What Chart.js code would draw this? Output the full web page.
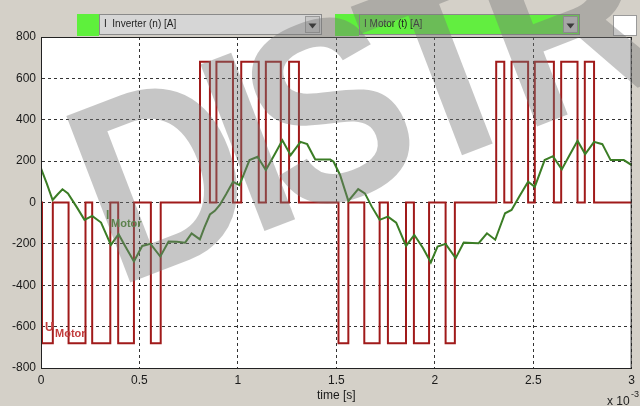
<!DOCTYPE html>
<html><head><meta charset="utf-8">
<script src="https://cdn.jsdelivr.net/npm/chart.js@4/dist/chart.umd.min.js"></script>
<style>html,body{margin:0;padding:0;background:#d4d0c8;overflow:hidden}#wrap{width:640px;height:406px;position:relative}</style>
</head><body><div id="wrap"><canvas id="c" width="640" height="406"></canvas></div>
<script>
// time in ms (axis shown as x10^-3 s)
const iMotorTime = [0.0,0.03,0.059,0.085,0.109,0.137,0.18,0.221,0.26,0.305,0.355,0.394,0.43,0.472,0.514,0.556,0.606,0.648,0.69,0.732,0.765,0.807,0.83,0.858,0.883,0.908,0.94,0.975,1.008,1.059,1.1,1.142,1.185,1.226,1.268,1.318,1.352,1.393,1.469,1.486,1.519,1.561,1.611,1.645,1.68,1.72,1.762,1.804,1.854,1.896,1.94,1.98,2.014,2.055,2.106,2.147,2.19,2.223,2.265,2.307,2.357,2.39,2.43,2.474,2.508,2.558,2.6,2.645,2.685,2.725,2.764,2.809,2.851,2.893,2.96,3.0];
const iMotorValue = [165,90,12,40,64,44,-20,-84,-65,-97,-205,-153,-215,-285,-210,-200,-261,-189,-190,-194,-149,-178,-120,-58,-40,-12,40,100,84,205,221,157,230,301,229,293,282,208,208,197,133,8,65,44,-20,-84,-68,-97,-210,-157,-220,-290,-213,-200,-269,-194,-196,-197,-149,-180,-52,-36,30,100,76,205,224,160,230,298,234,293,282,205,205,181];
const uMotorTime = [0,0.005,0.06,0.14,0.226,0.26,0.352,0.392,0.472,0.558,0.608,0.8075,0.858,0.891,0.975,1.017,1.106,1.142,1.218,1.26,1.31,1.511,1.561,1.642,1.72,1.762,1.854,1.894,1.971,2.055,2.102,2.312,2.353,2.39,2.474,2.508,2.605,2.642,2.725,2.762,2.809,3.0];
const uMotorLevel = [0,-680,0,-680,0,-680,0,-680,0,-680,0,680,0,680,0,680,0,680,0,680,0,-680,0,-680,0,-680,0,-680,0,-680,0,680,0,680,0,680,0,680,0,680,0,0];
const xTickValues = [0,0.5,1,1.5,2,2.5,3];
const yTickValues = [-800,-600,-400,-200,0,200,400,600,800];
const selector1 = 'I  Inverter (n) [A]';
const selector2 = 'I Motor (t) [A]';

const FONT = '"Liberation Sans", Arial, sans-serif';

const decor = {
  id: 'decor',
  beforeDraw(chart) {
    const ctx = chart.ctx, a = chart.chartArea;
    ctx.save();
    ctx.fillStyle = '#d4d0c8';
    ctx.fillRect(0, 0, chart.width, chart.height);
    ctx.fillStyle = '#ffffff';
    ctx.fillRect(a.left, a.top, a.right - a.left, a.bottom - a.top);
    function combo(x, y, w, h, fill, text, sq) {
      ctx.fillStyle = '#5ef03c';
      ctx.fillRect(sq[0], sq[1], sq[2], sq[3]);
      ctx.fillStyle = fill;
      ctx.fillRect(x, y, w, h);
      ctx.strokeStyle = '#8a8a8a';
      ctx.lineWidth = 1;
      ctx.strokeRect(x + 0.5, y + 0.5, w - 1, h - 1);
      ctx.fillStyle = '#c8c8c8';
      ctx.fillRect(x + w - 17, y + 2, 15, h - 4);
      ctx.strokeStyle = '#9a9a9a';
      ctx.strokeRect(x + w - 16.5, y + 2.5, 14, h - 5);
      ctx.fillStyle = '#111';
      const cx = x + w - 9.5, cy = y + h / 2 + 1;
      ctx.beginPath();
      ctx.moveTo(cx - 4, cy - 2); ctx.lineTo(cx + 4, cy - 2); ctx.lineTo(cx, cy + 3); ctx.closePath(); ctx.fill();
      ctx.fillStyle = '#222';
      ctx.font = '10px ' + FONT;
      ctx.textBaseline = 'middle';
      ctx.textAlign = 'left';
      ctx.fillText(text, x + 5, y + h / 2);
    }
    combo(99, 14, 223, 21, '#d6d6d6', selector1, [77, 14, 22, 22]);
    combo(359, 14, 221, 21, '#62ee40', selector2, [335, 14, 24, 22]);
    ctx.fillStyle = '#ffffff';
    ctx.fillRect(613, 15, 24, 21);
    ctx.strokeStyle = '#9a9a9a';
    ctx.strokeRect(613.5, 15.5, 23, 20);
    ctx.restore();
  },
  afterDraw(chart) {
    const ctx = chart.ctx, a = chart.chartArea;
    ctx.save();
    ctx.strokeStyle = '#222';
    ctx.lineWidth = 1;
    ctx.strokeRect(a.left + 0.5, a.top + 0.5, a.right - a.left - 1, a.bottom - a.top);
    ctx.font = 'bold 12px ' + FONT;
    ctx.textBaseline = 'alphabetic';
    ctx.textAlign = 'left';
    ctx.fillStyle = '#4a8a30';
    ctx.fillText('I', 106, 219);
    ctx.font = 'bold 11px ' + FONT;
    ctx.fillText('Motor', 111, 227);
    ctx.fillStyle = '#c23c3c';
    ctx.font = 'bold 12px ' + FONT;
    ctx.fillText('U', 45, 331);
    ctx.font = 'bold 11px ' + FONT;
    ctx.fillText('Motor', 55, 337);
    ctx.fillStyle = '#222';
    ctx.font = '12px ' + FONT;
    ctx.fillText('x 10', 607, 405);
    ctx.font = '9px ' + FONT;
    ctx.fillText('-3', 631, 397);
    // watermark
    ctx.translate(116, 288);
    ctx.rotate(-21 * Math.PI / 180);
    ctx.scale(0.95, 1.08);
    ctx.font = 'bold 240px ' + FONT;
    ctx.letterSpacing = '-22px';
    ctx.fillStyle = 'rgba(120,120,120,0.42)';
    ctx.fillText('DISTRIBUTION', 0, 0);
    ctx.restore();
  }
};

new Chart(document.getElementById('c'), {
  type: 'line',
  data: {
    datasets: [
      { label: 'I Motor', data: iMotorTime.map((t, i) => ({x: t, y: iMotorValue[i]})), borderColor: '#3b7d25', borderWidth: 2, pointRadius: 0, tension: 0, fill: false },
      { label: 'U Motor', data: uMotorTime.map((t, i) => ({x: t, y: uMotorLevel[i]})), borderColor: '#a01a1a', borderWidth: 2, pointRadius: 0, stepped: 'before', fill: false }
    ]
  },
  options: {
    responsive: false, animation: false, devicePixelRatio: 1,
    layout: { padding: { left: 0, top: 37, right: 3, bottom: 0 } },
    plugins: { legend: { display: false }, tooltip: { enabled: false } },
    scales: {
      x: {
        type: 'linear', min: 0, max: 3,
        afterBuildTicks: s => { s.ticks = xTickValues.map(v => ({value: v})); },
        afterFit: s => { s.height = 38; },
        ticks: { color: '#1a1a1a', font: { size: 12, family: FONT }, padding: 5, maxRotation: 0, autoSkip: false, callback: v => String(v) },
        grid: { color: 'rgba(0,0,0,0.8)', lineWidth: 1, drawTicks: false },
        border: { display: true, color: '#222', width: 1, dash: [3, 3] },
        title: { display: true, text: 'time [s]', color: '#1a1a1a', font: { size: 12, family: FONT }, padding: { top: 0, bottom: 3 } }
      },
      y: {
        min: -800, max: 800,
        afterBuildTicks: s => { s.ticks = yTickValues.map(v => ({value: v})); },
        afterFit: s => { s.width = 41; },
        ticks: { color: '#1a1a1a', font: { size: 12, family: FONT }, padding: 5, autoSkip: false, callback: v => String(v) },
        grid: { color: 'rgba(0,0,0,0.8)', lineWidth: 1, drawTicks: false },
        border: { display: true, color: '#222', width: 1, dash: [3, 3] }
      }
    }
  },
  plugins: [decor]
});
</script></body></html>
